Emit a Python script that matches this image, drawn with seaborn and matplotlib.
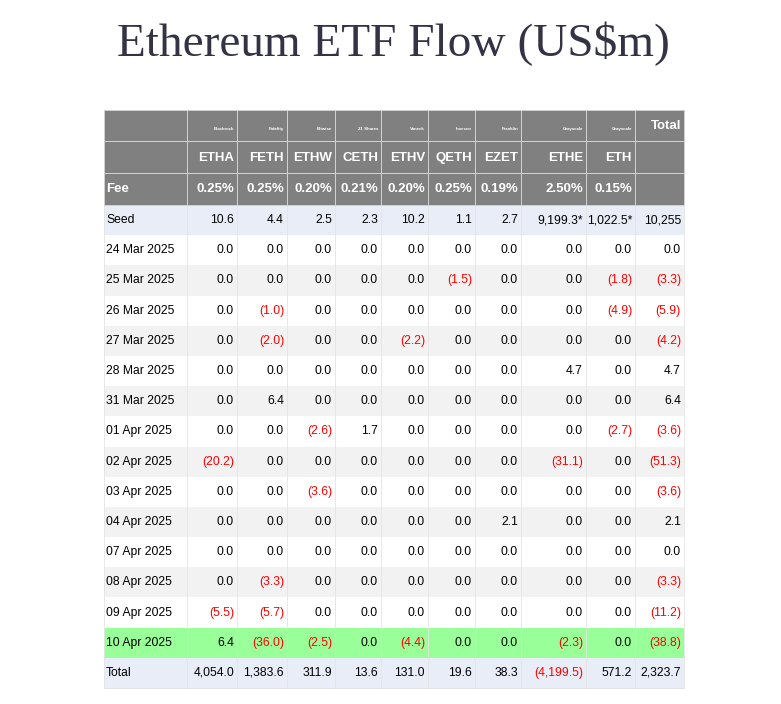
import numpy as np
import matplotlib
matplotlib.use("Agg")
import matplotlib.pyplot as plt
import seaborn as sns
from matplotlib.colors import ListedColormap

sns.set_theme(style="white")

issuers = ["Blackrock", "Fidelity", "Bitwise", "21 Shares", "Vaneck", "Invesco", "Franklin", "Grayscale", "Grayscale"]
tickers = ["ETHA", "FETH", "ETHW", "CETH", "ETHV", "QETH", "EZET", "ETHE", "ETH"]
fees = ["0.25%", "0.25%", "0.20%", "0.21%", "0.20%", "0.25%", "0.19%", "2.50%", "0.15%"]

row_labels = ["Seed", "24 Mar 2025", "25 Mar 2025", "26 Mar 2025", "27 Mar 2025", "28 Mar 2025",
              "31 Mar 2025", "01 Apr 2025", "02 Apr 2025", "03 Apr 2025", "04 Apr 2025",
              "07 Apr 2025", "08 Apr 2025", "09 Apr 2025", "10 Apr 2025", "Total"]

etha = [10.6, 0, 0, 0, 0, 0, 0, 0, -20.2, 0, 0, 0, 0, -5.5, 6.4, 4054.0]
feth = [4.4, 0, 0, -1.0, -2.0, 0, 6.4, 0, 0, 0, 0, 0, -3.3, -5.7, -36.0, 1383.6]
ethw = [2.5, 0, 0, 0, 0, 0, 0, -2.6, 0, -3.6, 0, 0, 0, 0, -2.5, 311.9]
ceth = [2.3, 0, 0, 0, 0, 0, 0, 1.7, 0, 0, 0, 0, 0, 0, 0, 13.6]
ethv = [10.2, 0, 0, 0, -2.2, 0, 0, 0, 0, 0, 0, 0, 0, 0, -4.4, 131.0]
qeth = [1.1, 0, -1.5, 0, 0, 0, 0, 0, 0, 0, 0, 0, 0, 0, 0, 19.6]
ezet = [2.7, 0, 0, 0, 0, 0, 0, 0, 0, 0, 2.1, 0, 0, 0, 0, 38.3]
ethe = [9199.3, 0, 0, 0, 0, 4.7, 0, 0, -31.1, 0, 0, 0, 0, 0, -2.3, -4199.5]
eth = [1022.5, 0, -1.8, -4.9, 0, 0, 0, -2.7, 0, 0, 0, 0, 0, 0, 0, 571.2]
total = [10255, 0, -3.3, -5.9, -4.2, 4.7, 6.4, -3.6, -51.3, -3.6, 2.1, 0, -3.3, -11.2, -38.8, 2323.7]
series = [etha, feth, ethw, ceth, ethv, qeth, ezet, ethe, eth, total]

# layout in pixels
col_edges = [104, 187, 237, 287, 335, 381, 428, 475, 521, 586, 635, 684]
head_edges = [110, 141, 173, 205]
y0, y1 = 205, 688
nrows = len(row_labels)
row_edges = np.linspace(y0, y1, nrows + 1)

fig = plt.figure(figsize=(7.81, 7.04), dpi=100)
ax = fig.add_axes([0, 0, 1, 1])
ax.set_xlim(0, 781)
ax.set_ylim(704, 0)
ax.axis("off")

# row background colours: 0 blue, 1 white, 2 grey, 3 green
codes = []
for i in range(nrows):
    if i == 0 or i == nrows - 1:
        codes.append(0)
    elif row_labels[i] == "10 Apr 2025":
        codes.append(3)
    else:
        codes.append(1 if i % 2 == 1 else 2)
grid = np.repeat(np.array(codes)[:, None], len(col_edges) - 1, axis=1)
cmap = ListedColormap(["#e9edf7", "#ffffff", "#f2f2f2", "#99ff99"])
ax.pcolormesh(col_edges, row_edges, grid, cmap=cmap, vmin=-0.5, vmax=3.5, linewidth=0)
ax.vlines(col_edges, y0, y1, color="#e4e4e4", linewidth=0.6)
ax.hlines(y1, col_edges[0], col_edges[-1], color="#dddddd", linewidth=0.6)
ax.pcolormesh(col_edges, head_edges, np.zeros((3, len(col_edges) - 1)),
              cmap=ListedColormap(["#808080"]), edgecolor="#d0d0d0", linewidth=0.5)

font = "Liberation Sans"
def rx(j):
    return col_edges[j + 1] - 3

for j in range(9):
    ax.text(rx(j + 1), head_edges[0] + 19, issuers[j], color="white", fontsize=3.2,
            ha="right", va="center", family=font, fontweight="bold")
    ax.text(rx(j + 1), head_edges[1] + 17, tickers[j], color="white", fontsize=9.5,
            ha="right", va="center", family=font, fontweight="bold")
    ax.text(rx(j + 1), head_edges[2] + 16, fees[j], color="white", fontsize=9.5,
            ha="right", va="center", family=font, fontweight="bold")
ax.text(rx(10), head_edges[0] + 16, "Total", color="white", fontsize=9.5,
        ha="right", va="center", family=font, fontweight="bold")
ax.text(106, head_edges[2] + 16, "Fee", color="white", fontsize=9.5,
        ha="left", va="center", family=font, fontweight="bold")

def fmt(v, i, j):
    if i == 0 and j == 9:
        return f"{v:,.0f}"
    s = f"{abs(v):,.1f}"
    if i == 0 and j in (7, 8):
        s += "*"
    return f"({s})" if v < 0 else s

for i, lab in enumerate(row_labels):
    yc = (row_edges[i] + row_edges[i + 1]) / 2
    ax.text(106, yc, lab, fontsize=8.7, ha="left", va="center", family=font, color="black")
    for j, s in enumerate(series):
        v = s[i]
        ax.text(rx(j + 1), yc, fmt(v, i, j), fontsize=8.7, ha="right", va="center",
                family=font, color="red" if v < 0 else "black")

ax.text(393, 44, "Ethereum ETF Flow (US$m)", fontsize=34, ha="center", va="center",
        family="Liberation Serif", color="#333345")

fig.savefig("out.png", dpi=100)
